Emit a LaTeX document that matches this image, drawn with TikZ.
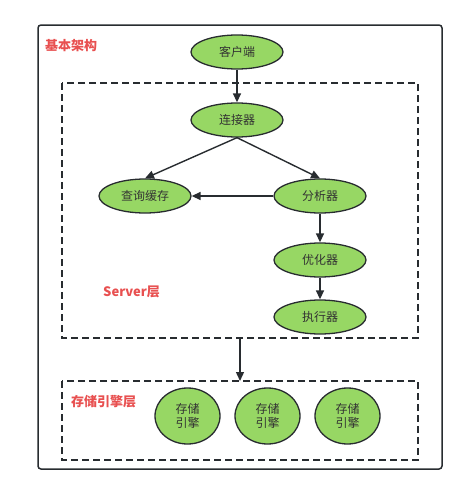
\documentclass[tikz,border=0pt]{standalone}
\usepackage{fontspec}
\setmainfont{Noto Sans CJK SC}
\usetikzlibrary{shapes.geometric,arrows.meta}
\definecolor{nodegreen}{RGB}{151,215,100}
\definecolor{darkline}{RGB}{40,44,48}
\definecolor{labelred}{RGB}{232,80,80}
\tikzset{
  comp/.style={ellipse, draw=darkline, line width=1.3pt, fill=nodegreen, minimum width=92pt, minimum height=34pt, inner sep=0pt, font=\fontsize{12}{14}\selectfont, text=black!80},
  engine/.style={comp, minimum width=65pt, minimum height=56pt, align=center, font=\fontsize{12}{14}\selectfont},
  arr/.style={draw=darkline, line width=1.4pt, -{Triangle[length=9pt,width=8pt]}},
  layer/.style={draw=darkline, line width=1.4pt, dash pattern=on 7pt off 4pt},
  lbl/.style={text=labelred, font=\bfseries\fontsize{13}{15}\selectfont, anchor=west, inner sep=0pt}
}
\begin{document}
\begin{tikzpicture}[x=1pt,y=-1pt]
\useasboundingbox (0,0) rectangle (467,496);
\draw[draw=darkline, line width=1.5pt, rounded corners=3pt] (38,25) rectangle (442,469);
\node[lbl] (title) at (45,46) {基本架构};
\draw[layer] (62,83) rectangle (418,338);
\draw[layer] (62,381) rectangle (418,460);
\coordinate (sbot) at (240,338);
\coordinate (etop) at (240,381);
\node[lbl] (srv) at (103,292) {Server层};
\node[lbl] (stl) at (71,402) {存储引擎层};
\node[comp] (client) at (237,52) {客户端};
\node[comp] (conn) at (237,120) {连接器};
\node[comp] (cache) at (145,196) {查询缓存};
\node[comp] (parser) at (320,196) {分析器};
\node[comp] (opt) at (320,260) {优化器};
\node[comp] (exec) at (320,317) {执行器};
\node[engine] (e1) at (187.5,416) {存储\\引擎};
\node[engine] (e2) at (267.5,416) {存储\\引擎};
\node[engine] (e3) at (347.5,416) {存储\\引擎};
\draw[arr] (client) -- (conn);
\draw[arr] (conn.south) -- (cache.north);
\draw[arr] (conn.south) -- (parser.north);
\draw[arr] (parser) -- (cache);
\draw[arr] (parser) -- (opt);
\draw[arr] (opt) -- (exec);
\draw[arr] (sbot) -- (etop);
\end{tikzpicture}
\end{document}
